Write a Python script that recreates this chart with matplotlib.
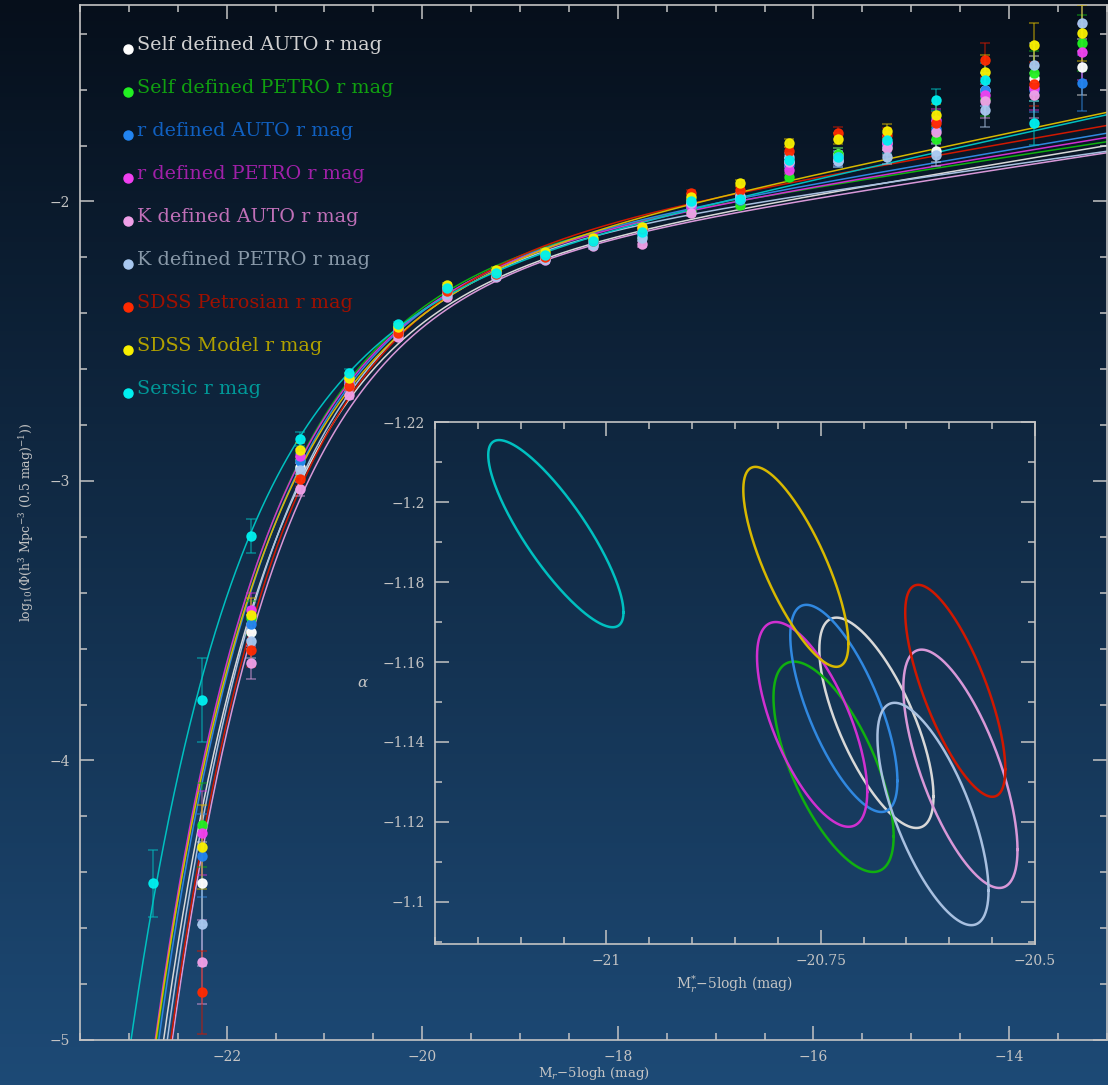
import numpy as np
import matplotlib.pyplot as plt
from matplotlib.ticker import MultipleLocator, FuncFormatter

plt.rcParams['font.family'] = 'DejaVu Serif'
plt.rcParams['mathtext.fontset'] = 'dejavuserif'

# ---- samples ----
labels = ["Self defined AUTO r mag", "Self defined PETRO r mag", "r defined AUTO r mag",
          "r defined PETRO r mag", "K defined AUTO r mag", "K defined PETRO r mag",
          "SDSS Petrosian r mag", "SDSS Model r mag", "Sersic r mag"]
marker_colors = ["#ffffff", "#22f022", "#2284f0", "#f040f0", "#f0a0e8", "#a8c8f0",
                 "#ff2a00", "#f8f000", "#00f0f0"]
text_colors = ["#d0d0d0", "#10a010", "#1060c0", "#a020a8", "#c070b8", "#8898a8",
               "#a01000", "#b0a000", "#009898"]
line_colors = ["#d8d8d8", "#10b010", "#3088e0", "#d030d0", "#d898d8", "#a8c0e0",
               "#d01800", "#d8b800", "#00c0c0"]

# schechter fits: M*, alpha, log10 phi*
mstar = [-20.685, -20.735, -20.723, -20.760, -20.587, -20.619, -20.593, -20.779, -21.059]
alpha = [-1.1448, -1.1338, -1.1484, -1.1444, -1.1333, -1.1220, -1.1528, -1.1838, -1.1921]
log_phistar = [-1.908, -1.863, -1.877, -1.882, -1.893, -1.855, -1.855, -1.916, -1.972]

# 1 sigma error ellipses (half width in M*, half height in alpha, correlation)
mstar_hw = [0.0666, 0.0701, 0.0625, 0.0643, 0.0666, 0.0648, 0.0584, 0.0613, 0.0789]
alpha_hh = [0.0263, 0.0263, 0.0259, 0.0256, 0.0298, 0.0278, 0.0265, 0.0250, 0.0234]
rho = [0.70, 0.66, 0.70, 0.66, 0.68, 0.69, 0.74, 0.77, 0.84]

# ---- binned luminosity functions ----
nan = np.nan
bins = [-22.75, -22.25, -21.75, -21.25, -20.75, -20.25, -19.75, -19.25, -18.75, -18.25,
        -17.75, -17.25, -16.75, -16.25, -15.75, -15.25, -14.75, -14.25, -13.75, -13.25]
lf_white = [nan, -4.44, -3.54, -2.95, -2.65, -2.47, -2.32, -2.26, -2.20, -2.15,
            -2.11, -2.01, -1.99, -1.86, -1.83, -1.79, -1.82, -1.60, -1.56, -1.52]
lf_green = [nan, -4.23, -3.49, -2.925, -2.632, -2.449, -2.31, -2.25, -2.19, -2.14,
            -2.123, -2.03, -2.013, -1.912, -1.83, -1.805, -1.776, -1.633, -1.54, -1.433]
lf_blue = [nan, -4.34, -3.51, -2.93, -2.645, -2.46, -2.32, -2.26, -2.20, -2.15,
           -2.12, -2.02, -1.995, -1.87, -1.855, -1.80, -1.74, -1.60, -1.60, -1.576]
lf_magenta = [nan, -4.26, -3.46, -2.91, -2.64, -2.455, -2.31, -2.255, -2.195, -2.145,
              -2.11, -2.015, -1.984, -1.887, -1.84, -1.79, -1.708, -1.62, -1.594, -1.465]
lf_pink = [nan, -4.72, -3.65, -3.03, -2.692, -2.485, -2.34, -2.27, -2.21, -2.16,
           -2.152, -2.04, -1.99, -1.859, -1.85, -1.81, -1.751, -1.64, -1.62, nan]
lf_lightblue = [nan, -4.585, -3.573, -2.96, -2.66, -2.47, -2.33, -2.265, -2.205, -2.155,
                -2.13, -2.005, -1.98, -1.841, -1.855, -1.841, -1.834, -1.673, -1.512, -1.361]
lf_red = [nan, -4.83, -3.605, -2.993, -2.66, -2.47, -2.32, -2.26, -2.20, -2.14,
          -2.10, -1.97, -1.96, -1.82, -1.755, -1.762, -1.72, -1.494, -1.58, nan]
lf_yellow = [nan, -4.31, -3.48, -2.889, -2.63, -2.45, -2.30, -2.245, -2.18, -2.13,
             -2.091, -1.984, -1.934, -1.791, -1.776, -1.748, -1.69, -1.537, -1.44, -1.397]
lf_cyan = [-4.44, -3.784, -3.197, -2.85, -2.614, -2.44, -2.31, -2.255, -2.19, -2.14,
           -2.11, -2.00, -1.99, -1.85, -1.84, -1.78, -1.637, -1.565, -1.719, nan]
lf_err = [0.12, 0.15, 0.06, 0.025, 0.015, 0.01, 0.01, 0.01, 0.01, 0.01,
          0.01, 0.012, 0.012, 0.015, 0.02, 0.025, 0.04, 0.06, 0.08, 0.10]

lf_all = [lf_white, lf_green, lf_blue, lf_magenta, lf_pink, lf_lightblue,
          lf_red, lf_yellow, lf_cyan]

fg = "#c4c4c4"


def minus_fmt(v, pos):
    s = "%g" % v
    return s.replace("-", "\u2212")


def style_axes(ax, major_len=10, minor_len=5):
    for sp in ax.spines.values():
        sp.set_color(fg)
        sp.set_linewidth(1.2)
    ax.tick_params(which="both", direction="in", top=True, right=True,
                   colors=fg, labelcolor=fg, labelsize=10, width=1.1)
    ax.tick_params(which="major", length=major_len, pad=7)
    ax.tick_params(which="minor", length=minor_len)
    ax.xaxis.set_major_formatter(FuncFormatter(minus_fmt))
    ax.yaxis.set_major_formatter(FuncFormatter(minus_fmt))


def schechter(M, ms, a, lphi):
    # per 0.5 mag bin
    x = 10 ** (0.4 * (ms - M))
    return np.log10(0.5 * 0.4 * np.log(10) * 10 ** lphi * x ** (a + 1) * np.exp(-x))


fig = plt.figure(figsize=(11.08, 10.85), dpi=100)

# background gradient
bg = fig.add_axes([0, 0, 1, 1], zorder=-10)
top = np.array([6, 15, 27]) / 255.0
bot = np.array([29, 74, 118]) / 255.0
t = np.linspace(0, 1, 256)[:, None]
grad = (top[None, :] * (1 - t) + bot[None, :] * t)[:, None, :]
bg.imshow(np.repeat(grad, 2, axis=1), aspect="auto", extent=[0, 1, 0, 1])
bg.axis("off")

# =========================
# MAIN LUMINOSITY FUNCTION
# =========================
ax = fig.add_axes([0.0722, 0.0415, 0.9268, 0.9539])
ax.set_facecolor("none")
Mgrid = np.linspace(-23.5, -13.0, 600)
for i in range(len(labels)):
    ax.plot(Mgrid, schechter(Mgrid, mstar[i], alpha[i], log_phistar[i]),
            color=line_colors[i], lw=1.1, zorder=2)

for i in range(len(labels)):
    y = np.array(lf_all[i], dtype=float)
    ax.errorbar(bins, y, yerr=lf_err, fmt="none", ecolor=line_colors[i], alpha=0.55,
                elinewidth=1.2, capsize=3.5, capthick=1.2, zorder=3)
for i in range(len(labels)):
    ax.plot(bins, lf_all[i], "o", ms=6.5, color=marker_colors[i], mec=marker_colors[i],
            alpha=0.95, zorder=4)

ax.set_xlim(-23.5, -13.0)
ax.set_ylim(-5.0, -1.297)
ax.xaxis.set_major_locator(MultipleLocator(2))
ax.xaxis.set_minor_locator(MultipleLocator(0.5))
ax.yaxis.set_major_locator(MultipleLocator(1))
ax.yaxis.set_minor_locator(MultipleLocator(0.2))
style_axes(ax)
ax.set_xlabel(r"M$_r$$-$5logh (mag)", color=fg, fontsize=9.5, labelpad=1)
ax.set_ylabel(r"log$_{10}$($\Phi$(h$^3$ Mpc$^{-3}$ (0.5 mag)$^{-1}$))", color=fg,
              fontsize=9, labelpad=10)

# legend
for i, lab in enumerate(labels):
    yy = 0.9614 - i * 0.04155
    ax.plot(0.0467, yy - 0.004, "o", ms=6.5, color=marker_colors[i],
            transform=ax.transAxes, clip_on=False)
    ax.text(0.0555, yy, lab, color=text_colors[i], fontsize=13.8,
            transform=ax.transAxes, va="center", ha="left")

# =========================
# INSET: M* - alpha contours
# =========================
ins = fig.add_axes([0.3926, 0.130, 0.5415, 0.481])
ins.set_facecolor("none")
tt = np.linspace(0, 2 * np.pi, 300)
for i in range(len(labels)):
    cm = mstar[i] + mstar_hw[i] * np.cos(tt)
    ca = alpha[i] + alpha_hh[i] * (rho[i] * np.cos(tt) + np.sqrt(1 - rho[i] ** 2) * np.sin(tt))
    ins.plot(cm, ca, color=line_colors[i], lw=1.8)

ins.set_xlim(-21.2, -20.5)
ins.set_ylim(-1.0895, -1.22)
ins.xaxis.set_major_locator(MultipleLocator(0.25))
ins.xaxis.set_minor_locator(MultipleLocator(0.05))
ins.yaxis.set_major_locator(MultipleLocator(0.02))
ins.yaxis.set_minor_locator(MultipleLocator(0.01))
style_axes(ins)
ins.set_xlabel(r"M$^{*}_{r}$$-$5logh (mag)", color=fg, fontsize=10, labelpad=4)
ins.set_ylabel(r"$\alpha$", color=fg, fontsize=11, rotation=0, labelpad=14, va="center")

fig.savefig("out.png", dpi=100)
